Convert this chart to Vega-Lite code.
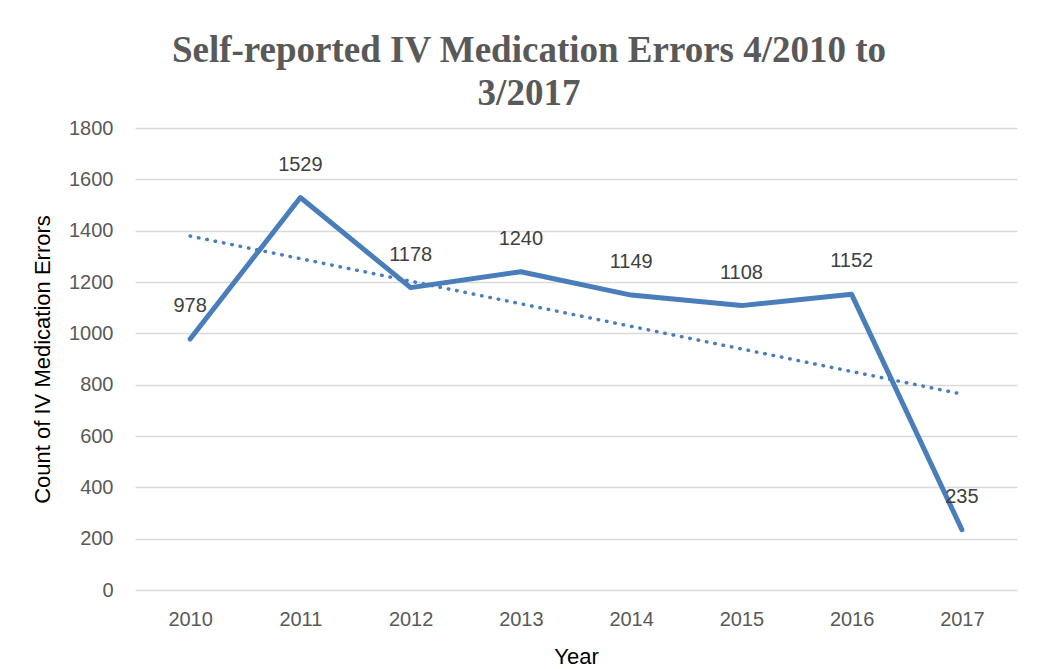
{
  "$schema": "https://vega.github.io/schema/vega-lite/v6.json",
  "autosize": {"type": "none"},
  "width": 882,
  "height": 462,
  "padding": {"left": 135, "top": 128, "right": 22, "bottom": 79},
  "background": "white",
  "config": {"view": {"stroke": null}},
  "title": {
    "text": ["Self-reported IV Medication Errors 4/2010 to", "3/2017"],
    "font": "Liberation Serif",
    "fontSize": 37,
    "fontWeight": "bold",
    "color": "#595959",
    "lineHeight": 43,
    "anchor": "middle",
    "dx": -47,
    "offset": 5
  },
  "data": {
    "values": [
      {"year": 2010, "count": 978},
      {"year": 2011, "count": 1529},
      {"year": 2012, "count": 1178},
      {"year": 2013, "count": 1240},
      {"year": 2014, "count": 1149},
      {"year": 2015, "count": 1108},
      {"year": 2016, "count": 1152},
      {"year": 2017, "count": 235}
    ]
  },
  "encoding": {
    "x": {
      "field": "year",
      "type": "ordinal",
      "scale": {"type": "point", "padding": 0.5},
      "axis": {
        "title": "Year",
        "labelAngle": 0,
        "labelFont": "Liberation Sans",
        "labelFontSize": 20,
        "labelColor": "#595959",
        "labelPadding": 19,
        "ticks": false,
        "domain": false,
        "titleFont": "Liberation Sans",
        "titleFontSize": 22,
        "titleFontWeight": "normal",
        "titleColor": "#000000",
        "titlePadding": 17
      }
    },
    "y": {
      "field": "count",
      "type": "quantitative",
      "scale": {"domain": [0, 1800]},
      "axis": {
        "title": "Count of IV Medication Errors",
        "format": "d",
        "values": [0, 200, 400, 600, 800, 1000, 1200, 1400, 1600, 1800],
        "labelFont": "Liberation Sans",
        "labelFontSize": 20,
        "labelColor": "#595959",
        "labelPadding": 22,
        "ticks": false,
        "domain": false,
        "grid": true,
        "gridColor": "#d9d9d9",
        "gridWidth": 1.5,
        "titleFont": "Liberation Sans",
        "titleFontSize": 22,
        "titleFontWeight": "normal",
        "titleColor": "#000000",
        "titlePadding": 14
      }
    }
  },
  "layer": [
    {
      "transform": [
        {"regression": "count", "on": "year", "method": "linear"}
      ],
      "mark": {
        "type": "line",
        "color": "#4A7EBB",
        "strokeWidth": 3.5,
        "strokeCap": "round",
        "strokeDash": [0.5, 8]
      }
    },
    {
      "mark": {
        "type": "line",
        "color": "#4A7EBB",
        "strokeWidth": 5,
        "strokeJoin": "round",
        "strokeCap": "round"
      }
    },
    {
      "mark": {
        "type": "text",
        "dy": -33,
        "font": "Liberation Sans",
        "fontSize": 20,
        "color": "#404040"
      },
      "encoding": {"text": {"field": "count", "type": "quantitative", "format": "d"}}
    }
  ]
}
